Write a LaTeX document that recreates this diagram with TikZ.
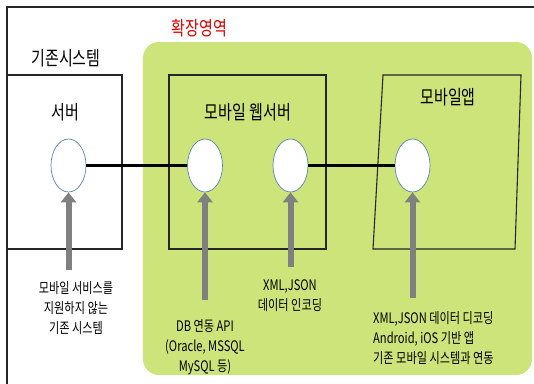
\documentclass[tikz,border=0pt]{standalone}
\usepackage{fontspec}
\newfontfamily\kr[FakeStretch=0.77]{Noto Sans CJK KR}
\usetikzlibrary{shapes.geometric,arrows.meta}
\definecolor{greenbg}{RGB}{205,228,122}
\definecolor{ellline}{RGB}{91,134,176}
\definecolor{arrgray}{RGB}{128,128,128}
\definecolor{redtxt}{RGB}{220,0,0}
\tikzset{
  oval/.style={ellipse,draw=ellline,line width=0.7pt,fill=white,minimum width=35pt,minimum height=53pt,inner sep=0pt},
  boxline/.style={draw=black!85,line width=1.1pt},
  link/.style={line width=2.5pt,black},
  uparrow/.style={line width=6pt,arrgray,-{Triangle[width=15pt,length=10pt]}},
  title/.style={font=\kr\fontsize{19.5}{20}\selectfont,inner sep=0pt},
  note/.style={font=\kr\fontsize{14.5}{20}\selectfont,inner sep=0pt,align=center},
}
\begin{document}
\begin{tikzpicture}[x=1pt,y=-1pt]
\useasboundingbox (0,0) rectangle (534,383);
% outer frame
\draw[line width=1.2pt,black!85] (7,390) -- (7,7) -- (540,7);
% green region
\fill[greenbg,rounded corners=16pt] (143,42) rectangle (532,375);
% boxes
\draw[boxline] (7,75) rectangle (122,249);
\draw[boxline] (169,75) rectangle (326,249);
\draw[boxline] (383,75) -- (521,75) -- (515,249) -- (373,249) -- cycle;
% titles
\node[title,text=redtxt] (ext) at (199.5,28) {확장영역};
\node[title] (legacy) at (66,58) {기존시스템};
\node[title] (srvt) at (65,112) {서버};
\node[title] (webt) at (248,112) {모바일 웹서버};
\node[title] (appt) at (448,97) {모바일앱};
% ellipses
\node[oval] (e1) at (68.5,165.5) {};
\node[oval] (e2) at (205,165.5) {};
\node[oval] (e3) at (290.5,165.5) {};
\node[oval] (e4) at (412.5,165.5) {};
\draw[link] (e1.east) -- (e2.west);
\draw[link] (e3.east) -- (e4.west);
% arrows
\coordinate (a1) at (68.5,270);
\coordinate (a2) at (205,300);
\coordinate (a3) at (290.5,267);
\coordinate (a4) at (412.5,298);
\draw[uparrow] (a1) -- (e1.south);
\draw[uparrow] (a2) -- (e2.south);
\draw[uparrow] (a3) -- (e3.south);
\draw[uparrow] (a4) -- (e4.south);
% notes
\node[note,anchor=north] (n1) at (76,281) {모바일 서비스를\\지원하지 않는\\기존 시스템};
\node[note,anchor=north] (n2) at (205,319) {DB 연동 API\\(Oracle, MSSQL\\MySQL 등)};
\node[note,anchor=north] (n3) at (290,279) {XML,JSON\\데이터 인코딩};
\node[note,anchor=north west,align=left] (n4) at (373,311) {XML,JSON 데이터 디코딩\\Android, iOS 기반 앱\\기존 모바일 시스템과 연동};
\end{tikzpicture}
\end{document}
